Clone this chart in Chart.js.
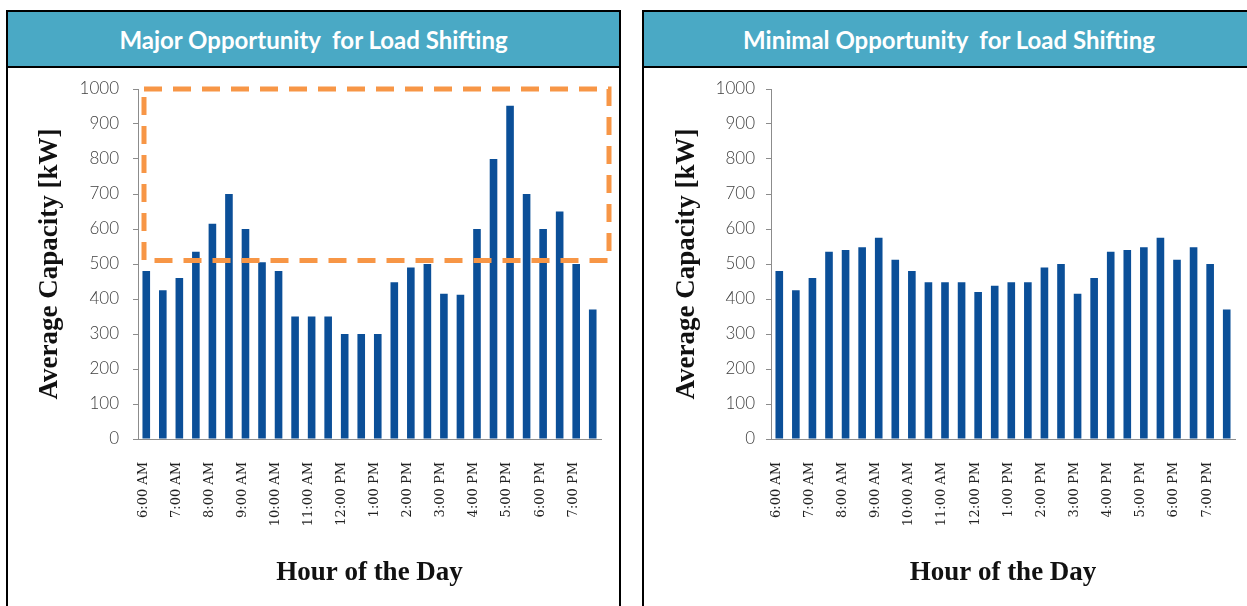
<!DOCTYPE html>
<html>
<head>
<meta charset="utf-8">
<script src="https://cdn.jsdelivr.net/npm/chart.js@4"></script>
<style>
  html, body { margin: 0; padding: 0; background: #fff; width: 1247px; height: 606px; overflow: hidden; }
  .panel { position: absolute; top: 10px; border: 2px solid #000; background: #fff; box-sizing: content-box; }
  .head { height: 54px; background: #4aa9c5; border-bottom: 2px solid #000; color: #fff;
          font-family: Lato, "Open Sans", sans-serif; font-weight: bold; font-size: 24px;
          display: flex; align-items: center; justify-content: center; white-space: pre; }
  .wrap { position: relative; }
</style>
</head>
<body>
<div class="panel" id="p1" style="left:6px; width:611px; height:620px;">
  <div class="head" id="t1"></div>
  <div class="wrap" style="width:611px; height:538px;"><canvas id="c1"></canvas></div>
</div>
<div class="panel" id="p2" style="left:642px; width:610px; height:620px;">
  <div class="head" id="t2"></div>
  <div class="wrap" style="width:603px; height:538px;"><canvas id="c2"></canvas></div>
</div>
<script>
// ---- data ----
const categories = ["6:00 AM","6:30 AM","7:00 AM","7:30 AM","8:00 AM","8:30 AM","9:00 AM","9:30 AM",
  "10:00 AM","10:30 AM","11:00 AM","11:30 AM","12:00 PM","12:30 PM","1:00 PM","1:30 PM",
  "2:00 PM","2:30 PM","3:00 PM","3:30 PM","4:00 PM","4:30 PM","5:00 PM","5:30 PM",
  "6:00 PM","6:30 PM","7:00 PM","7:30 PM"];
const majorValues = [480, 425, 460, 535, 615, 700, 600, 505, 480, 350, 350, 350, 300, 300, 300, 448,
  490, 500, 415, 412, 600, 800, 952, 700, 600, 650, 500, 370];
const minimalValues = [480, 425, 460, 535, 540, 548, 575, 512, 480, 448, 448, 448, 420, 438, 448, 448,
  490, 500, 415, 460, 535, 540, 548, 575, 512, 548, 500, 370];
const yTicks = [0, 100, 200, 300, 400, 500, 600, 700, 800, 900, 1000];
const majorTitle = "Major Opportunity  for Load Shifting";
const minimalTitle = "Minimal Opportunity  for Load Shifting";
const yAxisTitle = "Average Capacity [kW]";
const xAxisTitle = "Hour of the Day";
const highlightRange = [510, 1000]; // kW band outlined by the dashed box

document.getElementById('t1').textContent = majorTitle;
document.getElementById('t2').textContent = minimalTitle;

const dashedBox = {
  id: 'dashedBox',
  afterDatasetsDraw(chart, args, opts) {
    if (!opts.show) return;
    const y = chart.scales.y, a = chart.chartArea;
    const top = y.getPixelForValue(highlightRange[1]);
    const bottom = y.getPixelForValue(highlightRange[0]);
    const left = a.left + 6, right = a.right + 8;
    const ctx = chart.ctx;
    ctx.save();
    ctx.strokeStyle = '#f79646';
    ctx.lineWidth = 5;
    ctx.setLineDash([18, 11]);
    ctx.strokeRect(left, top, right - left, bottom - top);
    ctx.restore();
  }
};

function makeChart(id, values, cfg) {
  return new Chart(document.getElementById(id), {
    type: 'bar',
    data: { labels: categories, datasets: [{ data: values, backgroundColor: '#0b4f98',
      barPercentage: 0.46, categoryPercentage: 1.0 }] },
    options: {
      responsive: true, maintainAspectRatio: false, animation: false,
      layout: { padding: { left: 0, right: cfg.padRight, top: cfg.padTop, bottom: 0 } },
      plugins: { legend: { display: false }, tooltip: { enabled: false },
        dashedBox: { show: cfg.box } },
      scales: {
        x: {
          grid: { display: false },
          border: { display: true, color: '#8c8c8c', width: 1 },
          ticks: {
            autoSkip: false, minRotation: 90, maxRotation: 90, padding: 15, labelOffset: -3,
            color: '#222', font: { family: '"DejaVu Serif", serif', size: 13 },
            callback: function(v, i) { return i % 2 === 0 ? categories[i] : ''; }
          },
          title: { display: true, text: xAxisTitle, color: '#111',
            font: { family: '"Liberation Serif", serif', size: 27, weight: 'bold' },
            padding: { top: 0, bottom: 17 } },
          afterFit: function(s) { s.height = 167; s.paddingLeft = 0; s.paddingRight = 0; }
        },
        y: {
          min: 0, max: 1000,
          afterBuildTicks: function(s) { s.ticks = yTicks.map(v => ({ value: v })); },
          grid: { display: true, drawOnChartArea: false, drawTicks: true, tickLength: 5, color: '#8c8c8c' },
          border: { display: true, color: '#8c8c8c', width: 1 },
          ticks: { padding: cfg.tickPad, color: '#404040',
            font: { family: 'Lato, "Open Sans", sans-serif', size: 17, weight: 300 },
            callback: function(v) { return String(v); } },
          title: { display: true, text: yAxisTitle, color: '#111',
            font: { family: '"Liberation Serif", serif', size: 27, weight: 'bold' },
            padding: { top: cfg.titlePad, bottom: 0 } },
          afterFit: function(s) { s.width = cfg.yWidth; s.paddingTop = 0; s.paddingBottom = 0; }
        }
      }
    },
    plugins: [dashedBox]
  });
}

makeChart('c1', majorValues, { padRight: 18, padTop: 21, yWidth: 130, tickPad: 14, titlePad: 26, box: true });
makeChart('c2', minimalValues, { padRight: 12, padTop: 21, yWidth: 127, tickPad: 11, titlePad: 27, box: false });
</script>
</body>
</html>
